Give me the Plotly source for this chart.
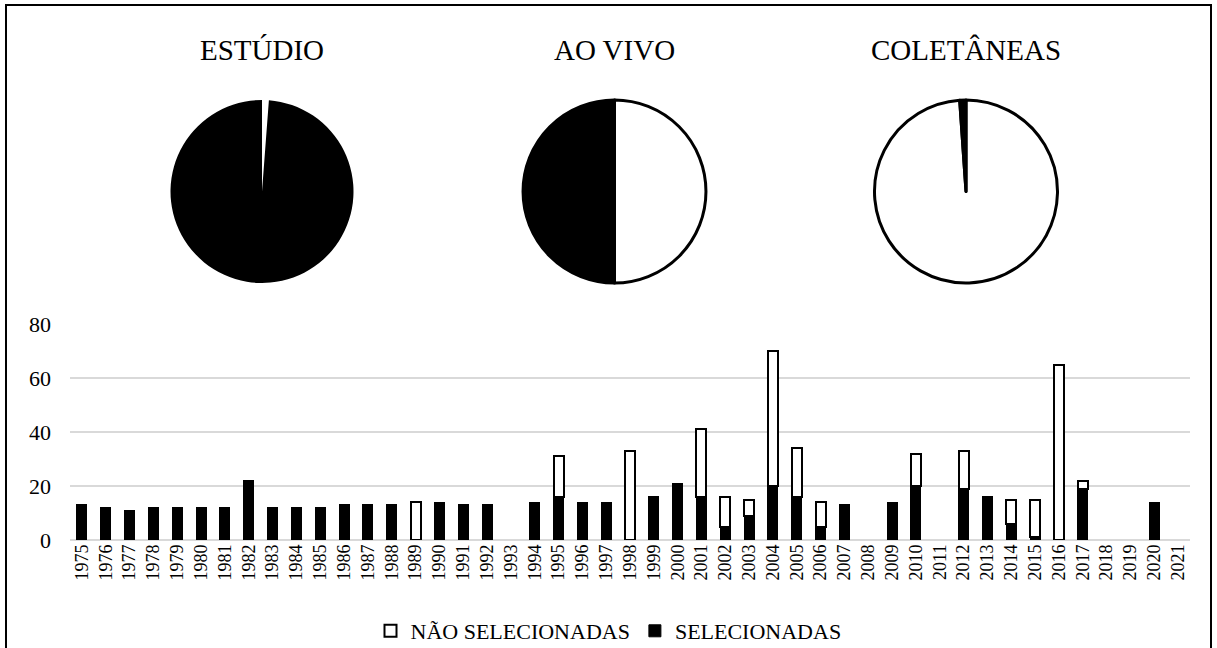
import plotly.graph_objects as go

W, H = 1217, 648

years = [str(y) for y in range(1975, 2022)]
selecionadas = [13, 12, 11, 12, 12, 12, 12, 22, 12, 12, 12, 13, 13, 13, 0, 14, 13, 13, 0, 14,
                16, 14, 14, 0, 16, 21, 16, 5, 9, 20, 16, 5, 13, 0, 14, 20, 0, 19, 16, 6,
                1, 0, 19, 0, 0, 14, 0]
nao_selecionadas = [0, 0, 0, 0, 0, 0, 0, 0, 0, 0, 0, 0, 0, 0, 14, 0, 0, 0, 0, 0,
                    15, 0, 0, 33, 0, 0, 25, 11, 6, 50, 18, 9, 0, 0, 0, 12, 0, 14, 0, 9,
                    14, 65, 3, 0, 0, 0, 0]

pie_titles = ["ESTÚDIO", "AO VIVO", "COLETÂNEAS"]
pie_labels = ["NÃO SELECIONADAS", "SELECIONADAS"]
pie_values = [[1.2, 98.8], [50, 50], [98.9, 1.1]]

FONT = "Liberation Serif"

def px(x):
    return x / W

def py(y):
    return 1 - y / H

def nz(vals):
    return [v if v else None for v in vals]

fig = go.Figure()

fig.add_trace(go.Bar(x=years, y=nz(selecionadas), name="SELECIONADAS",
                     marker=dict(color="black", line=dict(color="black", width=1)),
                     xaxis="x", yaxis="y"))
fig.add_trace(go.Bar(x=years, y=nz(nao_selecionadas), name="NÃO SELECIONADAS",
                     marker=dict(color="white", line=dict(color="black", width=2)),
                     xaxis="x", yaxis="y"))

centers = [262, 614.5, 966]
r = 91.5
cy = 191.5
for i, (t, vals) in enumerate(zip(pie_titles, pie_values)):
    cx = centers[i]
    lw = [0, 0] if i == 0 else [3, 3]
    fig.add_trace(go.Pie(labels=pie_labels, values=vals, sort=False, direction="clockwise",
                         rotation=0, textinfo="none", hoverinfo="label+value",
                         marker=dict(colors=["white", "black"], line=dict(color="black", width=lw)),
                         showlegend=False,
                         domain=dict(x=[px(cx - r), px(cx + r)], y=[py(cy + r), py(cy - r)])))
    fig.add_annotation(text=t, x=px(cx), y=py(50), xref="paper", yref="paper",
                       showarrow=False, font=dict(family=FONT, size=29, color="black"),
                       xanchor="center", yanchor="middle")

fig.update_layout(
    width=W, height=H,
    margin=dict(l=0, r=0, t=0, b=0, autoexpand=False),
    paper_bgcolor="white", plot_bgcolor="white",
    barmode="stack", bargap=0.58,
    font=dict(family=FONT, color="black"),
    xaxis=dict(domain=[px(70), px(1190)], type="category", tickangle=-90,
               tickfont=dict(size=18, family=FONT), showline=False, ticks="",
               showgrid=False, automargin=False),
    yaxis=dict(domain=[py(540), py(324)], range=[0, 80], tickvals=[0, 20, 40, 60, 80],
               tickfont=dict(size=22, family=FONT), showgrid=True, gridcolor="#d9d9d9",
               gridwidth=1.5, zeroline=True, zerolinecolor="#d9d9d9", zerolinewidth=1.5,
               showline=False, ticks="", ticklabelstandoff=18, automargin=False),
    legend=dict(orientation="h", x=0.5, xanchor="center", y=py(631), yanchor="middle",
                traceorder="reversed", font=dict(size=22, family=FONT)),
    shapes=[dict(type="rect", xref="paper", yref="paper", x0=px(6), x1=px(1211),
                 y0=-0.02, y1=py(5), line=dict(color="black", width=2))],
)

fig.write_html("out.html", config={"displayModeBar": False},
               post_script="document.body.style.margin='0';")
